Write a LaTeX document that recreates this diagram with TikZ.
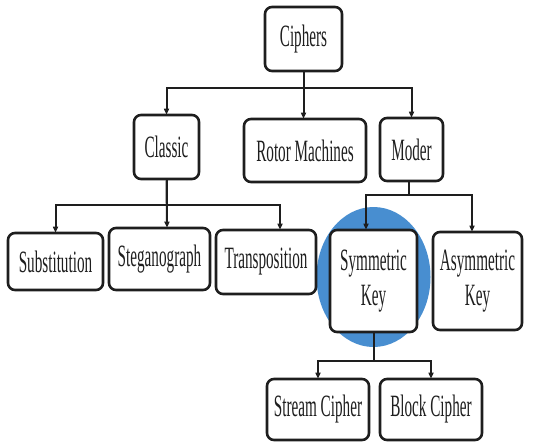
\documentclass[tikz,border=0pt]{standalone}
\usepackage{fontspec}
\setmainfont{Liberation Serif}[FakeStretch=0.49]
\usetikzlibrary{arrows.meta}
\definecolor{ink}{RGB}{30,30,30}
\definecolor{highlight}{RGB}{72,142,208}
\tikzset{
  box/.style={draw=ink, line width=2.6pt, rounded corners=7pt, fill=white,
    inner sep=0pt, align=center, text=ink,
    font=\fontsize{31}{35}\selectfont},
  link/.style={draw=ink, line width=2pt},
  arr/.style={link, -{Triangle[length=6pt,width=5pt]}, shorten >=-1pt},
}
\begin{document}
\begin{tikzpicture}[x=1pt, y=-1pt]
\useasboundingbox (0,0) rectangle (543,442);

% highlight behind the symmetric-key node
\fill[highlight] (373.5,277) ellipse [x radius=57, y radius=70];

% top level
\node[box, minimum width=77pt, minimum height=64pt] (ciphers) at (303.5,39) {Ciphers};
\node[box, minimum width=65pt, minimum height=64pt] (classic) at (166.5,147) {Classic};
\node[box, minimum width=122pt, minimum height=63pt] (rotor) at (305,150.5) {Rotor Machines};
\node[box, minimum width=63pt, minimum height=63pt] (moder) at (411.5,149.5) {Moder};

% classic ciphers
\node[box, minimum width=95pt, minimum height=57pt] (subst) at (55.5,261.5) {Substitution};
\node[box, minimum width=101pt, minimum height=62pt] (stegano) at (159.5,259) {\raisebox{3pt}{Steganograph}};
\node[box, minimum width=100pt, minimum height=64pt] (transp) at (266,262) {\raisebox{2pt}{Transposition}};

% modern ciphers
\node[box, minimum width=87pt, minimum height=102pt] (sym) at (373.5,281) {Symmetric\\Key};
\node[box, minimum width=89pt, minimum height=98pt] (asym) at (477.5,281) {Asymmetric\\Key};

% symmetric-key ciphers
\node[box, minimum width=102pt, minimum height=61pt] (stream) at (318,409.5) {Stream Cipher};
\node[box, minimum width=102pt, minimum height=61pt] (block) at (431,409.5) {Block Cipher};

% connectors
\draw[arr] (ciphers.south) -- ++(0,16) -| (classic.north);
\draw[arr] (ciphers.south) -- (ciphers.south |- rotor.north);
\draw[arr] (ciphers.south) -- ++(0,16) -| (moder.north);

\draw[arr] (classic.south) -- ++(0,25) -| (subst.north);
\draw[arr] (classic.south) -- ([xshift=7.5pt]stegano.north);
\draw[arr] (classic.south) -- ++(0,25) -| ([xshift=14pt]transp.north);

\draw[arr] ([xshift=-2.5pt]moder.south) -- ++(0,13) -| ([xshift=-7.5pt]sym.north);
\draw[arr] ([xshift=-2.5pt]moder.south) -- ++(0,13) -| ([xshift=-5.5pt]asym.north);

\draw[arr] (sym.south) -- ++(0,28) -| (stream.north);
\draw[arr] (sym.south) -- ++(0,28) -| (block.north);
\end{tikzpicture}
\end{document}
